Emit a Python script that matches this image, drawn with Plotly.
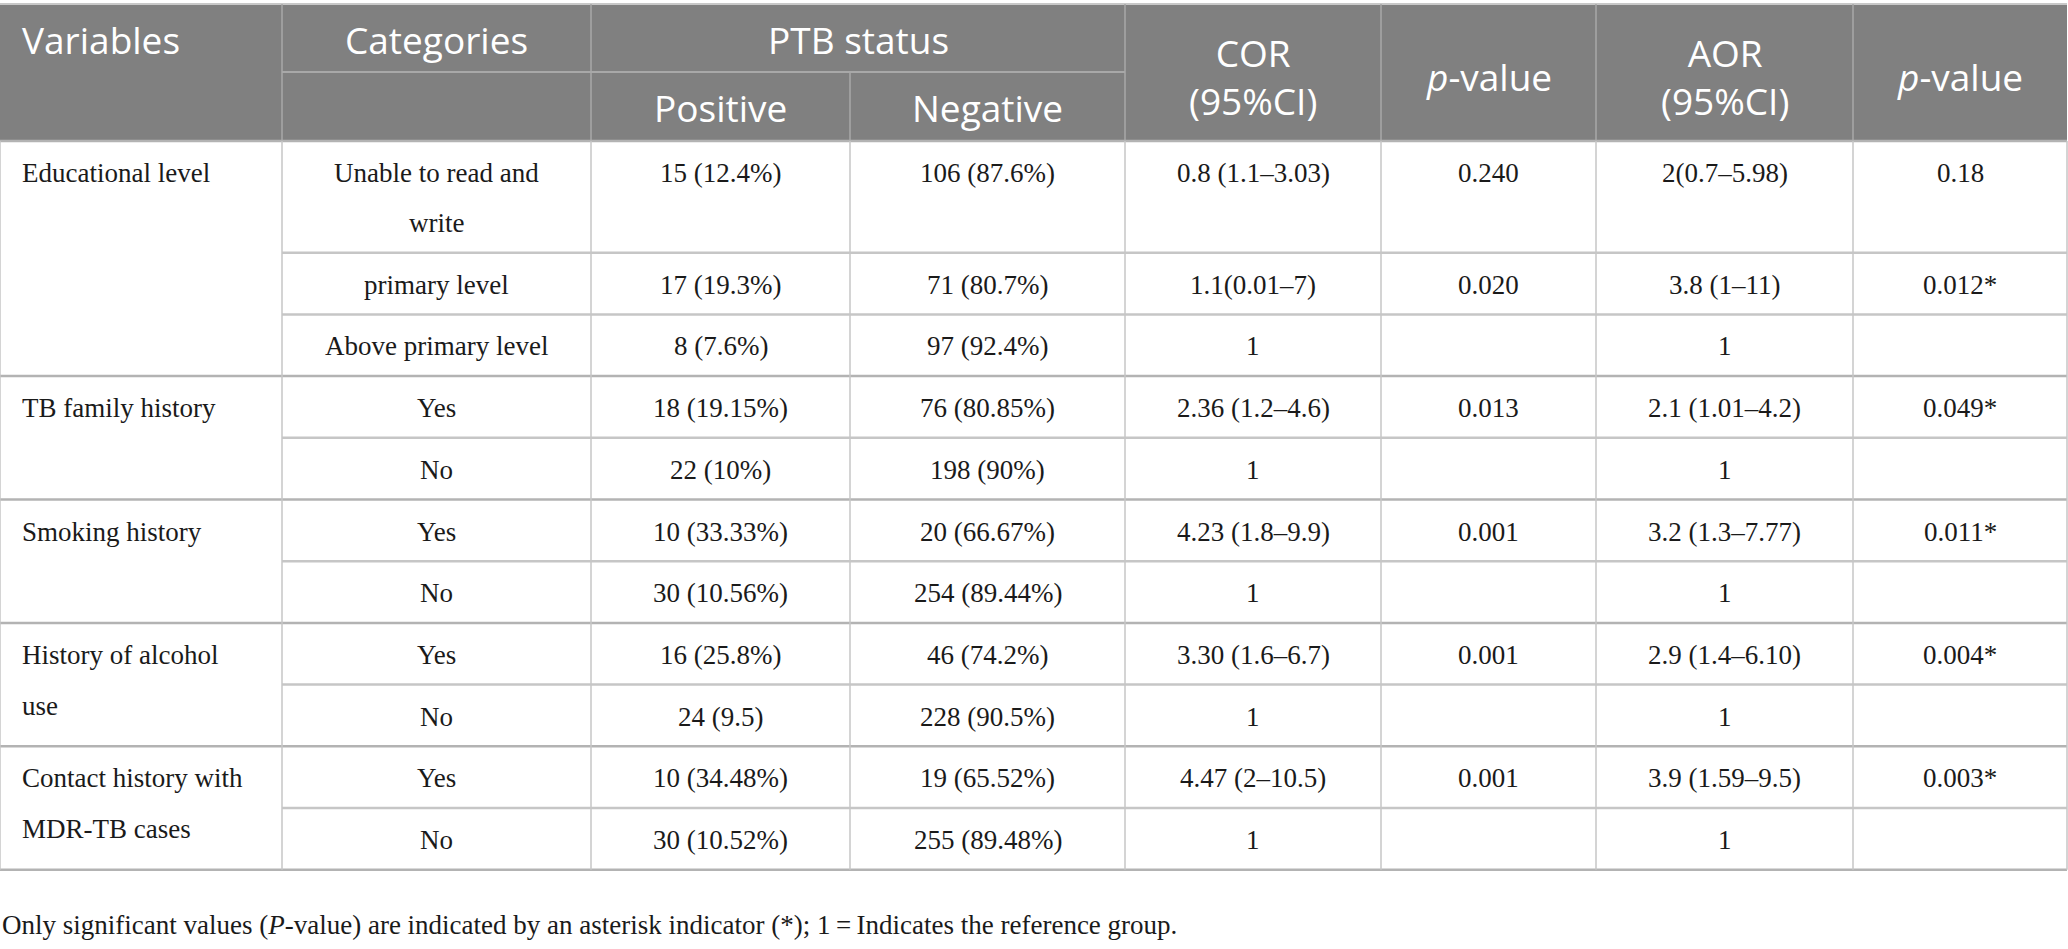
import plotly.graph_objects as go

# table content
header_top = ['Variables', 'Categories', 'PTB status', 'COR<br>(95%CI)', '<i>p</i>-value',
              'AOR<br>(95%CI)', '<i>p</i>-value']
header_sub = ['Positive', 'Negative']

variables = ['Educational level', 'TB family history', 'Smoking history',
             'History of alcohol<br>use', 'Contact history with<br>MDR-TB cases']
group_sizes = [3, 2, 2, 2, 2]

categories = ['Unable to read and<br>write', 'primary level', 'Above primary level',
              'Yes', 'No', 'Yes', 'No', 'Yes', 'No', 'Yes', 'No']
positive = ['15 (12.4%)', '17 (19.3%)', '8 (7.6%)', '18 (19.15%)', '22 (10%)',
            '10 (33.33%)', '30 (10.56%)', '16 (25.8%)', '24 (9.5)', '10 (34.48%)', '30 (10.52%)']
negative = ['106 (87.6%)', '71 (80.7%)', '97 (92.4%)', '76 (80.85%)', '198 (90%)',
            '20 (66.67%)', '254 (89.44%)', '46 (74.2%)', '228 (90.5%)', '19 (65.52%)', '255 (89.48%)']
cor = ['0.8 (1.1–3.03)', '1.1(0.01–7)', '1', '2.36 (1.2–4.6)', '1', '4.23 (1.8–9.9)', '1',
       '3.30 (1.6–6.7)', '1', '4.47 (2–10.5)', '1']
cor_p = ['0.240', '0.020', '', '0.013', '', '0.001', '', '0.001', '', '0.001', '']
aor = ['2(0.7–5.98)', '3.8 (1–11)', '1', '2.1 (1.01–4.2)', '1', '3.2 (1.3–7.77)', '1',
       '2.9 (1.4–6.10)', '1', '3.9 (1.59–9.5)', '1']
aor_p = ['0.18', '0.012*', '', '0.049*', '', '0.011*', '', '0.004*', '', '0.003*', '']

footnote = ('Only significant values (<i>P</i>-value) are indicated by an asterisk indicator (*); '
            '1\u2009=\u2009Indicates the reference group.')

W, H = 2068, 949
cols = [0, 282, 591, 850, 1125, 1381, 1596, 1853, 2067]
head_top, head_mid, head_bot = 4, 72, 141
line_step = 50
row_h = 61.7

HEAD_BG = '#808080'
HEAD_LINE = '#a8a8a8'
GRID = '#c6c6c6'
GRID_DARK = '#b3b3b3'
SANS = 'Open Sans'
SERIF = 'Liberation Serif'

shapes = []
ann = []


def hline(y, x0, x1, color, w):
    shapes.append(dict(type='line', x0=x0, x1=x1, y0=y, y1=y, line=dict(color=color, width=w)))


def vline(x, y0, y1, color, w):
    shapes.append(dict(type='line', x0=x, x1=x, y0=y0, y1=y1, line=dict(color=color, width=w)))


def text(x, y, s, size, color='#1a1a1a', font=SERIF, anchor='center'):
    ann.append(dict(x=x, y=y, text=s, showarrow=False, xanchor=anchor, yanchor='middle',
                    font=dict(family=font, size=size, color=color)))


def mid(i, j=None):
    j = i + 1 if j is None else j
    return (cols[i] + cols[j]) / 2


# header block
shapes.append(dict(type='rect', x0=0, x1=cols[-1], y0=head_top, y1=head_bot,
                   fillcolor=HEAD_BG, line=dict(width=0), layer='below'))
hline(head_top, 0, cols[-1], '#c8c8c8', 2)
hline(head_mid, cols[1], cols[4], HEAD_LINE, 2)
for k in [1, 2, 4, 5, 6, 7]:
    vline(cols[k], head_top, head_bot, HEAD_LINE, 1.5)
vline(cols[3], head_mid, head_bot, HEAD_LINE, 1.5)

hs = 37
text(20, 39, header_top[0], hs, 'white', SANS, 'left')
text(mid(1), 39, header_top[1], hs, 'white', SANS)
text(mid(2, 4), 39, header_top[2], hs, 'white', SANS)
text(mid(2), 107, header_sub[0], hs, 'white', SANS)
text(mid(3), 107, header_sub[1], hs, 'white', SANS)
for k, lab in enumerate(header_top[3:]):
    text(mid(4 + k), 76, lab, hs, 'white', SANS)

# body rows
bs = 27
row_tops = []
y = head_bot
for cat in categories:
    row_tops.append(y)
    y += row_h + line_step * cat.count('<br>')
body_bot = y

columns = [positive, negative, cor, cor_p, aor, aor_p]
for r, cat in enumerate(categories):
    top = row_tops[r]
    for n, part in enumerate(cat.split('<br>')):
        text(mid(1), top + 32 + n * line_step, part, bs)
    for k, vals in enumerate(columns):
        if vals[r]:
            text(mid(2 + k), top + 32, vals[r], bs)

r = 0
for g, (var, size) in enumerate(zip(variables, group_sizes)):
    top = row_tops[r]
    for n, part in enumerate(var.split('<br>')):
        text(20, top + 32 + n * 51, part, bs, anchor='left')
    if g > 0:
        hline(top, 0, cols[-1], GRID_DARK, 2.5)
    for s in range(1, size):
        hline(row_tops[r + s], cols[1], cols[-1], GRID, 2.5)
    r += size

hline(head_bot, 0, cols[-1], GRID_DARK, 2.5)
hline(body_bot, 0, cols[-1], GRID_DARK, 2.5)
for x in cols:
    vline(x, head_bot, body_bot, GRID, 1.5)

text(0, 925, footnote, bs, anchor='left')

fig = go.Figure()
fig.update_layout(width=W, height=H, margin=dict(l=0, r=0, t=0, b=0),
                  paper_bgcolor='white', plot_bgcolor='white',
                  shapes=shapes, annotations=ann, showlegend=False)
fig.update_xaxes(range=[0, W], visible=False, fixedrange=True)
fig.update_yaxes(range=[H, 0], visible=False, fixedrange=True)
# page body has an 8px default margin; drop it so the table sits at the window edge
fig.write_html('out.html', config={'displayModeBar': False},
               post_script="document.body.style.margin='0';")
